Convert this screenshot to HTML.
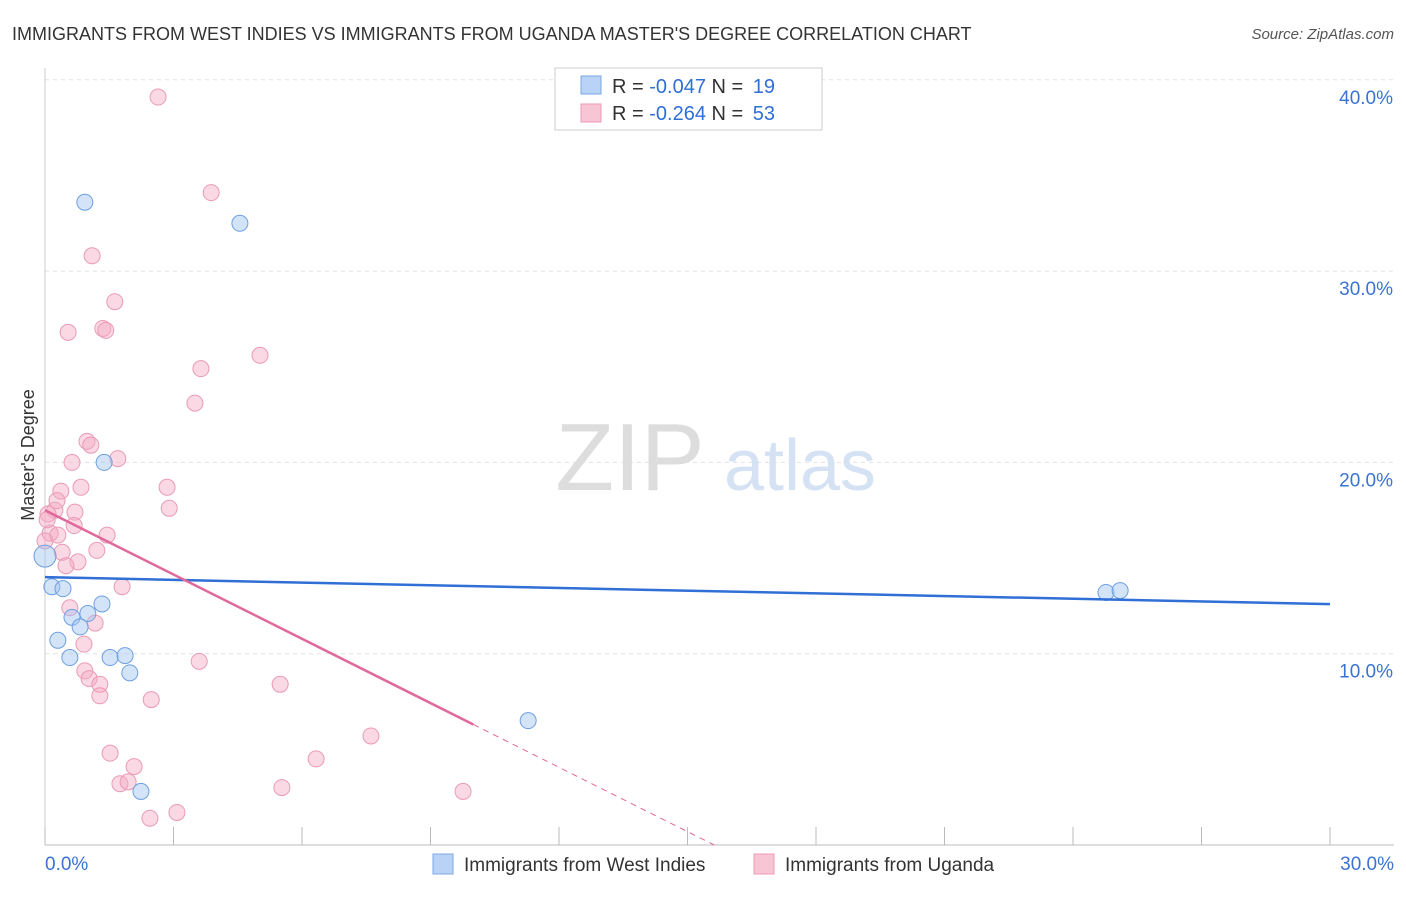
<!DOCTYPE html>
<html><head><meta charset="utf-8"><style>
body{margin:0;background:#fff;font-family:"Liberation Sans",sans-serif;}
svg text{font-family:"Liberation Sans",sans-serif;}
</style></head><body>
<svg id="chart" width="1406" height="892">
<text x="12" y="40" font-size="18" fill="#333">IMMIGRANTS FROM WEST INDIES VS IMMIGRANTS FROM UGANDA MASTER'S DEGREE CORRELATION CHART</text>
<text x="1394" y="39" font-size="15" fill="#555" text-anchor="end" font-style="italic">Source: ZipAtlas.com</text>
<g id="grid"></g>
<text x="630" y="490" font-size="96" fill="#ddd" text-anchor="middle" font-family="Liberation Serif">ZIP</text>
<text x="800" y="490" font-size="72" fill="#d4e2f4" text-anchor="middle">atlas</text>
<text transform="translate(34,455) rotate(-90)" font-size="18" fill="#333" text-anchor="middle">Master's Degree</text>
<g id="marks"></g>
<g>
<rect x="555" y="68" width="267" height="62" fill="#fff" stroke="#ccc"/>
<rect x="581" y="76" width="20" height="18" fill="#b8d3f5" stroke="#7aa8e4"/>
<rect x="581" y="104" width="20" height="18" fill="#f8c5d5" stroke="#ec9ab6"/>
<text x="612" y="93" font-size="20" fill="#333">R = <tspan fill="#2f6fd6">-0.047</tspan>   N = <tspan fill="#2f6fd6" dx="4">19</tspan></text>
<text x="612" y="120" font-size="20" fill="#333">R = <tspan fill="#2f6fd6">-0.264</tspan>   N = <tspan fill="#2f6fd6" dx="4">53</tspan></text>
</g>
<g>
<rect x="433" y="854" width="20" height="20" fill="#b8d3f5" stroke="#7aa8e4"/>
<text x="464" y="871" font-size="19" fill="#333">Immigrants from West Indies</text>
<rect x="754" y="854" width="20" height="20" fill="#f8c5d5" stroke="#ec9ab6"/>
<text x="785" y="871" font-size="19" fill="#333">Immigrants from Uganda</text>
</g>
</svg>
<script>
const yTicks=[10,20,30,40];
const yTickLabels=["10.0%","20.0%","30.0%","40.0%"];
const xTickLabels=["0.0%","30.0%"];
const blueX=[0.93,4.55,1.38,0,0.16,0.42,1.33,1.0,0.63,0.82,0.3,0.58,1.52,1.87,1.98,11.28,2.24,24.77,25.1];
const blueY=[33.6,32.5,20.0,15.1,13.5,13.4,12.6,12.1,11.9,11.4,10.7,9.8,9.8,9.9,9.0,6.5,2.8,13.2,13.3];
const pinkX=[2.64,3.88,1.1,1.63,0.54,1.35,1.42,5.02,3.64,3.5,0.98,1.07,1.7,0.63,0.37,0.84,2.85,2.9,0.23,0.7,0.07,0.68,0.12,0,0.3,1.45,0.4,1.21,0.77,0.49,1.8,0.58,1.17,0.91,3.6,0.93,1.03,1.28,5.49,1.28,2.48,7.61,6.33,1.52,2.08,1.75,1.94,5.53,9.76,3.08,2.45,0.05,0.28];
const pinkY=[39.1,34.1,30.8,28.4,26.8,27.0,26.9,25.6,24.9,23.1,21.1,20.9,20.2,20.0,18.5,18.7,18.7,17.6,17.5,17.4,17.3,16.7,16.3,15.9,16.2,16.2,15.3,15.4,14.8,14.6,13.5,12.4,11.6,10.5,9.6,9.1,8.7,8.4,8.4,7.8,7.6,5.7,4.5,4.8,4.1,3.2,3.3,3.0,2.8,1.7,1.4,17.0,18.0];
const blueTrend=[14.0,-0.047];
const pinkTrend=[17.5,-1.12];
const X0=45,X1=1330,Y0=845,PXY=19.13;
const xs=v=>X0+v/30*(X1-X0);
const ys=v=>Y0-v*PXY;
const NS="http://www.w3.org/2000/svg";
function mk(tag,attrs,parent){const e=document.createElementNS(NS,tag);for(const k in attrs)e.setAttribute(k,attrs[k]);parent.appendChild(e);return e;}
const grid=document.getElementById('grid');const marks=document.getElementById('marks');
yTicks.forEach((t,i)=>{
 const l=mk('line',{x1:X0,x2:1394,y1:ys(t),y2:ys(t),stroke:'#e2e2e2','stroke-dasharray':'4,4'},grid);
 
 
 const tx=mk('text',{x:1393,y:ys(t)+24,'font-size':19,fill:'#3b73d1','text-anchor':'end'},grid);tx.textContent=yTickLabels[i];
 
 
});
const ax=mk('line',{x1:X0,x2:1394,y1:Y0,y2:Y0,stroke:'#bbb'},grid);


const ay=mk('line',{x1:X0,x2:X0,y1:68,y2:Y0,stroke:'#ccc'},grid);


for(let i=0;i<=10;i++){const t=mk('line',{x1:xs(i*3),x2:xs(i*3),y1:Y0,y2:Y0-18,stroke:'#bbb'},grid);
 
 }
[[0,'start',X0],[30,'end',1394]].forEach((a,i)=>{const t=mk('text',{x:a[2],y:870,'font-size':19,fill:'#3b73d1','text-anchor':a[1]},grid);t.textContent=xTickLabels[i];
 
 });
pinkX.forEach((x,i)=>{const c=mk('circle',{cx:xs(x),cy:ys(pinkY[i]),r:8,fill:'rgba(245,170,195,0.45)',stroke:'#ea9ab5','stroke-width':1},marks);
 
 });
blueX.forEach((x,i)=>{const c=mk('circle',{cx:xs(x),cy:ys(blueY[i]),r:i==3?11:8,fill:'rgba(160,195,240,0.45)',stroke:'#6d9fe0','stroke-width':1},marks);
 
 });
const bl=mk('line',{x1:xs(0),y1:ys(blueTrend[0]),x2:xs(30),y2:ys(blueTrend[0]+blueTrend[1]*30),stroke:'#2f6fd6','stroke-width':2.5},marks);


const xz=-pinkTrend[0]/pinkTrend[1];
const pl=mk('line',{x1:xs(0),y1:ys(pinkTrend[0]),x2:xs(10),y2:ys(pinkTrend[0]+pinkTrend[1]*10),stroke:'#e0689a','stroke-width':2.5},marks);


const pd=mk('line',{x1:xs(10),y1:ys(pinkTrend[0]+pinkTrend[1]*10),x2:xs(xz),y2:ys(0),stroke:'#e0689a','stroke-width':1,'stroke-dasharray':'6,5'},marks);


</script>
</body></html>
